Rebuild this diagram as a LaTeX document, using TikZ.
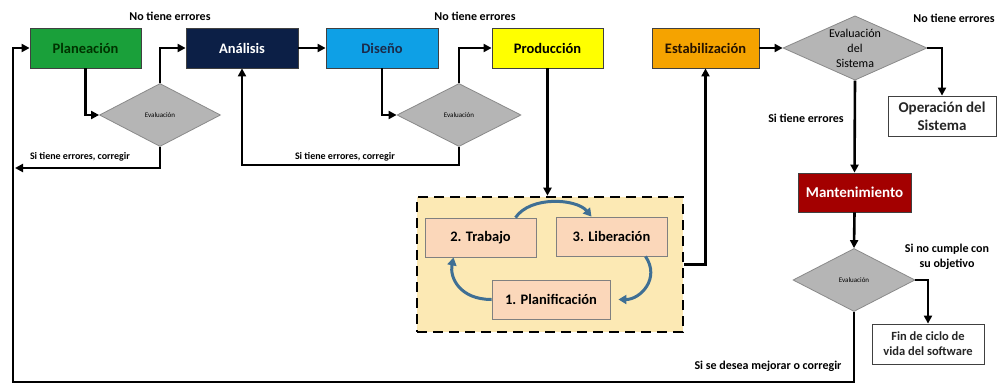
\documentclass[tikz,border=0pt]{standalone}
\usepackage{fontspec}
\setmainfont{Carlito}
\usetikzlibrary{shapes.geometric,arrows.meta}
\definecolor{cgreen}{HTML}{1AA03A}
\definecolor{cnavy}{HTML}{0C1F46}
\definecolor{cblue}{HTML}{0EA0E6}
\definecolor{cyellow}{HTML}{FFFF00}
\definecolor{corange}{HTML}{F5A300}
\definecolor{cred}{HTML}{A30000}
\definecolor{cgray}{HTML}{B5B5B5}
\definecolor{cdgray}{HTML}{8A8A8A}
\definecolor{cpeach}{HTML}{FBD7BA}
\definecolor{cbg}{HTML}{FCE9B4}
\definecolor{ccurve}{HTML}{3F6F94}
\definecolor{cdtext}{HTML}{1B2B4A}
\tikzset{
  box/.style={draw=black!75, line width=0.8pt, inner sep=0pt, align=center, font=\fontsize{14.5}{17}\selectfont\bfseries},
  dia/.style={diamond, draw=cdgray, fill=cgray, line width=0.8pt, inner sep=0pt, aspect=2, align=center, font=\fontsize{7}{8}\selectfont},
  arr/.style={line width=2.6pt, -{Triangle[length=8pt,width=8pt]}},
  lbl/.style={font=\fontsize{12}{14}\selectfont\bfseries, inner sep=0pt, align=center},
  cur/.style={draw=ccurve, line width=3pt, -{Triangle[length=8pt,width=9pt]}},
  inbox/.style={draw=black!50, fill=cpeach, line width=0.8pt, inner sep=0pt, font=\fontsize{14.5}{17}\selectfont\bfseries}
}
\begin{document}
\begin{tikzpicture}[x=1pt,y=-1pt]
\path[use as bounding box, fill=white] (0,0) rectangle (998,388);
% main boxes
\node[box, fill=cgreen, text=black!80!green, minimum width=111pt, minimum height=40pt] (plan) at (85.5,48) {Planeación};
\node[box, fill=cnavy, text=white, minimum width=112pt, minimum height=40pt] (anal) at (242,48) {Análisis};
\node[box, fill=cblue, text=cdtext, minimum width=112pt, minimum height=40pt] (dise) at (382,48) {Diseño};
\node[box, fill=cyellow, text=black, minimum width=111pt, minimum height=40pt] (prod) at (547.5,48) {Producción};
\node[box, fill=corange, text=black!85!orange, minimum width=107pt, minimum height=40pt] (esta) at (705.5,48) {Estabilización};
\node[box, fill=white, text=black!85, minimum width=108pt, minimum height=40pt, font=\fontsize{15}{18}\selectfont\bfseries] (oper) at (942,116) {Operación del\\Sistema};
\node[box, fill=cred, text=white, minimum width=113pt, minimum height=39pt, font=\fontsize{15}{18}\selectfont\bfseries] (mant) at (854.5,192.5) {Mantenimiento};
\node[box, fill=white, text=black!85, minimum width=112pt, minimum height=40pt, font=\fontsize{12.5}{15}\selectfont\bfseries] (fin) at (928,344) {Fin de ciclo de\\vida del software};
% diamonds
\node[dia, minimum width=121pt, minimum height=63pt] (d1) at (160,115) {Evaluación};
\node[dia, minimum width=124pt, minimum height=63pt] (d2) at (459,115) {Evaluación};
\node[dia, minimum width=144pt, minimum height=64pt, font=\fontsize{12}{15}\selectfont] (d3) at (855,48) {Evaluación\\del\\Sistema};
\node[dia, minimum width=122pt, minimum height=63pt] (d4) at (854,280) {Evaluación};
% dashed area
\node[draw=black, fill=cbg, line width=2.6pt, dash pattern=on 10pt off 6pt, minimum width=266pt, minimum height=135pt, inner sep=0pt] (area) at (550,264.5) {};
\node[inbox, minimum width=111pt, minimum height=39pt] (trab) at (480.5,237.5) {2. Trabajo};
\node[inbox, minimum width=111pt, minimum height=39pt] (libe) at (611.5,236.5) {3. Liberación};
\node[inbox, minimum width=118pt, minimum height=39pt] (plnf) at (551,299.5) {1. Planificación};
% curved arrows
\draw[cur] ([xshift=35pt]trab.north) .. controls +(15,-22) and +(-15,-18) .. ([xshift=-20pt]libe.north);
\draw[cur] ([xshift=34pt]libe.south) .. controls +(15,22) and +(22,0) .. ([xshift=8pt]plnf.east);
\draw[cur] (plnf.west) .. controls +(-32,0) and +(-4,20) .. ([xshift=-27pt]trab.south);
% coordinates
\coordinate (e1) at (15,168);
\coordinate (bl) at (13,382);
\coordinate (d2b) at (459,165);
\coordinate (d4b) at (854,382);
% connectors
\draw[arr] (plan.south) |- (d1.west);
\draw[arr] (d1.north) |- (anal.west);
\draw[arr] (d1.south) |- (e1);
\draw[arr] (anal.east) -- (dise.west);
\draw[arr] (dise.south) |- (d2.west);
\draw[arr] (d2.north) |- (prod.west);
\draw[arr] (d2.south) -- (d2b) -| (anal.south);
\draw[arr] (prod.south) -- (prod.south |- area.north);
\draw[arr] (area.east) -| (esta.south);
\draw[arr] (esta.east) -- (d3.west);
\draw[arr] (d3.east) -| (oper.north);
\draw[arr] (d3.south) -- (mant.north);
\draw[arr] (mant.south) -- (d4.north);
\draw[arr] (d4.east) -| (fin.north);
\draw[arr] (d4.south) -- (d4b) -- (bl) |- (plan.west);
% labels
\node[lbl] (l1) at (170,16) {No tiene errores};
\node[lbl] (l2) at (475,16) {No tiene errores};
\node[lbl] (l3) at (954,18) {No tiene errores};
\node[lbl, font=\fontsize{10}{12}\selectfont\bfseries] (l4) at (80,157) {Si tiene errores, corregir};
\node[lbl, font=\fontsize{10}{12}\selectfont\bfseries] (l5) at (345,157) {Si tiene errores, corregir};
\node[lbl] (l6) at (806,118) {Si tiene errores};
\node[lbl, font=\fontsize{12}{14.5}\selectfont\bfseries] (l7) at (947,257) {Si no cumple con\\su objetivo};
\node[lbl, font=\fontsize{12}{14}\selectfont\bfseries] (l8) at (768,366) {Si se desea mejorar o corregir};
\end{tikzpicture}
\end{document}
